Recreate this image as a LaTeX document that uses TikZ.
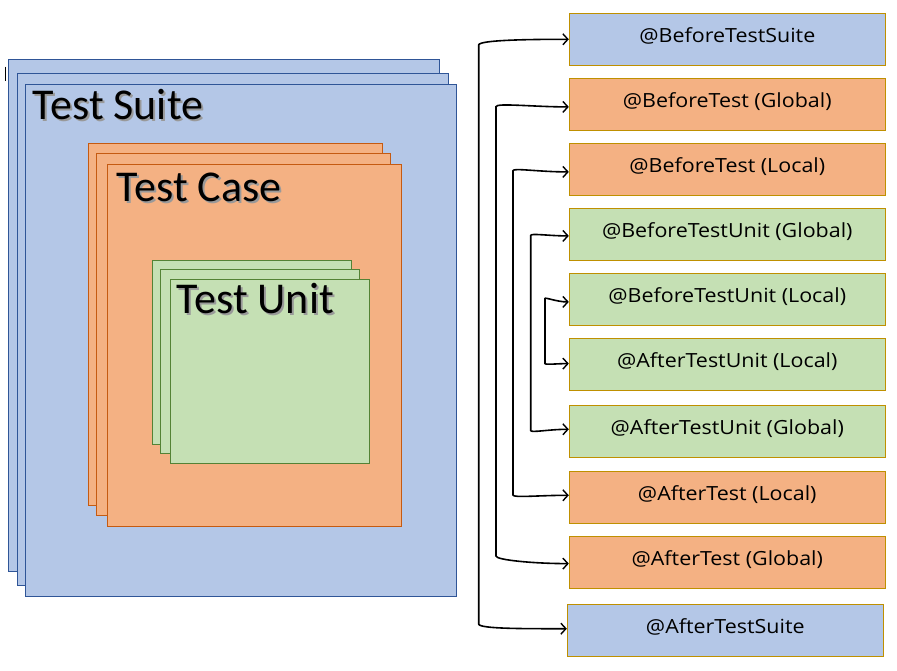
\documentclass[tikz,border=0pt]{standalone}
\usepackage{fontspec}
\setmainfont{Carlito}
\newfontfamily\labfont[FakeStretch=1.1]{Open Sans}
\usetikzlibrary{arrows.meta}
\definecolor{bfill}{HTML}{B4C7E7}
\definecolor{bdraw}{HTML}{2F5597}
\definecolor{ofill}{HTML}{F4B183}
\definecolor{odraw}{HTML}{C55A11}
\definecolor{gfill}{HTML}{C5E0B4}
\definecolor{gdraw}{HTML}{548235}
\definecolor{gold}{HTML}{BF9000}
\tikzset{
  bsheet/.style={fill=bfill,draw=bdraw,line width=1pt},
  osheet/.style={fill=ofill,draw=odraw,line width=1pt},
  gsheet/.style={fill=gfill,draw=gdraw,line width=1pt},
  hook/.style={draw=gold,line width=1pt,minimum width=316pt,minimum height=52pt,inner sep=0pt,
    font=\labfont\fontsize{19.5}{22}\selectfont,text height=10pt,text depth=4pt},
  hb/.style={hook,fill=bfill},
  ho/.style={hook,fill=ofill},
  hg/.style={hook,fill=gfill},
  title/.style={anchor=base west,inner sep=0pt,font=\fontsize{44}{50}\selectfont},
  conn/.style={draw=black,line width=1.6pt,{Straight Barb[length=5pt,width=11pt,line width=1.4pt]}-{Straight Barb[length=5pt,width=11pt,line width=1.4pt]}}
}
\newcommand{\shadowed}[1]{\makebox[0pt][l]{\hspace{2pt}\raisebox{-2pt}{\color{black!40}#1}}#1}
\begin{document}
\begin{tikzpicture}[x=1pt,y=-1pt]
\useasboundingbox (0,0) rectangle (897,670);
\fill[white] (0,0) rectangle (897,670);
% stray cursor
\draw[line width=1pt] (5,66.7) -- (5,80.7);
% blue stack
\draw[bsheet] (8.3,59.3) rectangle (439.7,571.7);
\draw[bsheet] (17.3,73.3) rectangle (448.7,585.3);
\draw[bsheet] (25.3,84.3) rectangle (456.7,596.3);
% orange stack
\draw[osheet] (88.3,143.3) rectangle (382.7,505.3);
\draw[osheet] (96.3,153.3) rectangle (390.7,515.7);
\draw[osheet] (107.3,164.3) rectangle (401.7,526.7);
% green stack
\draw[gsheet] (152.3,260.3) rectangle (351.7,444.3);
\draw[gsheet] (160.3,269.3) rectangle (359.7,453.3);
\draw[gsheet] (170.3,279.3) rectangle (369.7,463.3);
% titles
\node[title] (suite) at (32.7,119) {\shadowed{Test Suite}};
\node[title] (case) at (116.7,201.7) {\shadowed{Test Case}};
\node[title] (unit) at (176.7,313.3) {\shadowed{Test Unit}};
% hook boxes
\node[hb] (b1)  at (727.3,39.3)  {@BeforeTestSuite};
\node[ho] (b2)  at (727.3,104.3) {@BeforeTest (Global)};
\node[ho] (b3)  at (727.3,169.3) {@BeforeTest (Local)};
\node[hg] (b4)  at (727.3,234.3) {@BeforeTestUnit (Global)};
\node[hg] (b5)  at (727.3,299.3) {@BeforeTestUnit (Local)};
\node[hg] (b6)  at (727.3,364.3) {@AfterTestUnit (Local)};
\node[hg] (b7)  at (727.3,431.3) {@AfterTestUnit (Global)};
\node[ho] (b8)  at (727.3,497.3) {@AfterTest (Local)};
\node[ho] (b9)  at (727.3,562.3) {@AfterTest (Global)};
\node[hb,minimum height=51.7pt] (b10) at (725.3,630.2) {@AfterTestSuite};
% connector corners
\coordinate (c1t) at (478.7,45);    \coordinate (c1b) at (478.7,624);
\coordinate (c2t) at (496,106.7);   \coordinate (c2b) at (496,556);
\coordinate (c3t) at (513,170.7);   \coordinate (c3b) at (513,495);
\coordinate (c4t) at (530.7,235.5); \coordinate (c4b) at (530.7,430.5);
\coordinate (c5t) at (545,298.5);   \coordinate (c5b) at (545,363.5);
\path[conn] ([yshift=0pt]b1.west) .. controls +(-40,0) and +(0,-5) .. (c1t) -- (c1b) .. controls +(0,5) and +(-40,0) .. ([yshift=1.5pt]b10.west);
\path[conn] ([yshift=-2.6pt]b2.west) .. controls +(-35,0) and +(0,-4) .. (c2t) -- (c2b) .. controls +(0,4) and +(-35,0) .. ([yshift=-1.3pt]b9.west);
\path[conn] ([yshift=-2.6pt]b3.west) .. controls +(-30,0) and +(0,-3) .. (c3t) -- (c3b) .. controls +(0,3) and +(-30,0) .. ([yshift=2pt]b8.west);
\path[conn] ([yshift=-1.6pt]b4.west) .. controls +(-20,0) and +(0,-2.5) .. (c4t) -- (c4b) .. controls +(0,2.5) and +(-20,0) .. ([yshift=2pt]b7.west);
\path[conn] ([yshift=-2.6pt]b5.west) .. controls +(-12,0) and +(0,-1.5) .. (c5t) -- (c5b) .. controls +(0,1.5) and +(-12,0) .. ([yshift=0.7pt]b6.west);
\end{tikzpicture}
\end{document}
